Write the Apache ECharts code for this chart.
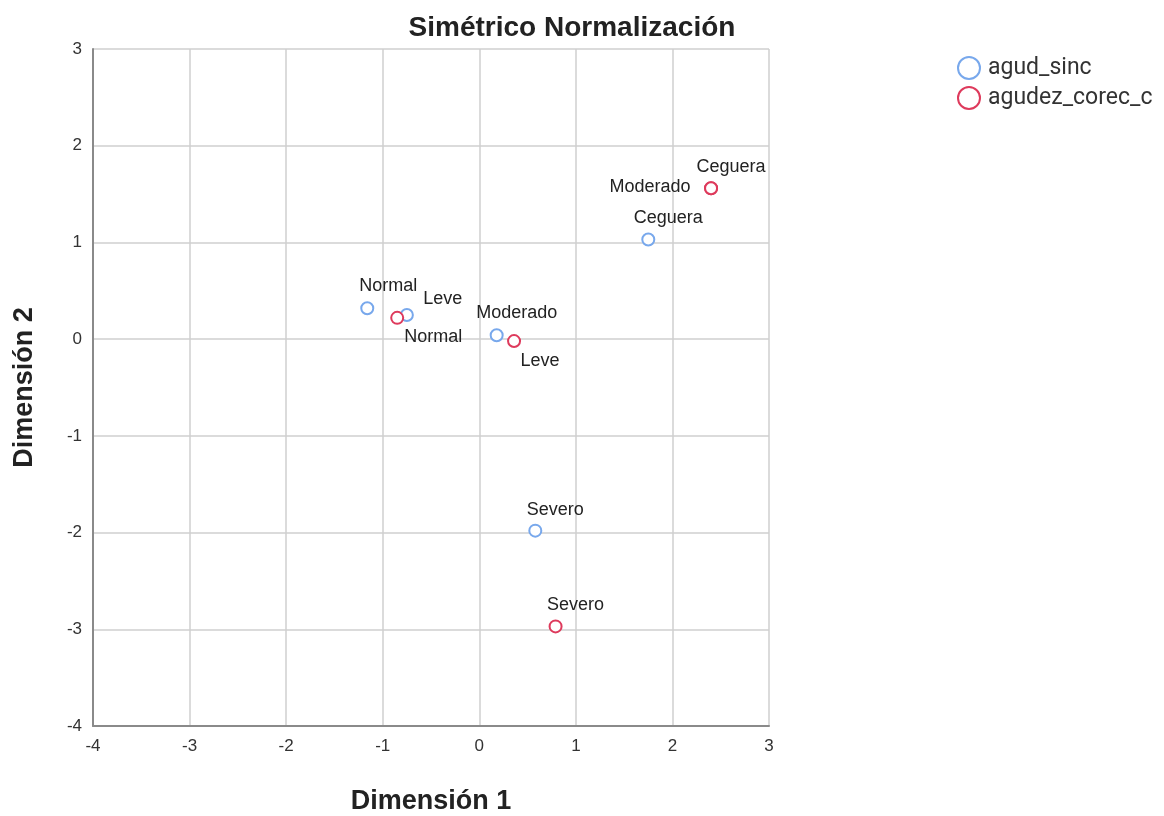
<!DOCTYPE html>
<html><head><meta charset="utf-8">
<script src="https://cdn.jsdelivr.net/npm/echarts@6/dist/echarts.min.js"></script>
<style>html,body{margin:0;padding:0;background:#fff;overflow:hidden}#c{width:1164px;height:816px}</style>
</head><body><div id="c"></div>
<script>
const seriesNames = ['agud_sinc', 'agudez_corec_c'];
const categories = ['Normal', 'Leve', 'Moderado', 'Severo', 'Ceguera'];
const sincX = [-1.16, -0.75, 0.18, 0.58, 1.75];
const sincY = [0.32, 0.25, 0.04, -1.98, 1.03];
const corecX = [-0.85, 0.36, 2.40, 0.79, 2.40];
const corecY = [0.22, -0.02, 1.56, -2.97, 1.56];
const xTicks = [-4, -3, -2, -1, 0, 1, 2, 3];
const yTicks = [-4, -3, -2, -1, 0, 1, 2, 3];

// label layout (pixel offsets from the point), styling only
const labelOffsets = {
  agud_sinc: {Normal:[21,-22], Leve:[36,-16], Moderado:[20,-22], Severo:[20,-21], Ceguera:[20,-21]},
  agudez_corec_c: {Normal:[36,19], Leve:[26,20], Moderado:[-61,-1], Severo:[20,-21], Ceguera:[20,-21]}
};
const colors = ['#78a8ec', '#de3a5c'];
const FONT = "'Liberation Sans', Arial, sans-serif";

function build(name, xs, ys) {
  return categories.map((c, i) => ({
    name: c,
    value: [xs[i], ys[i]],
    label: {offset: labelOffsets[name][c]}
  }));
}

const chart = echarts.init(document.getElementById('c'));
chart.setOption({
  animation: false,
  color: colors,
  title: {text: 'Simétrico Normalización', left: 567, top: 9, textAlign: 'center',
    textStyle: {fontFamily: FONT, fontSize: 28, fontWeight: 'bold', color: '#222'}},
  legend: {
    data: seriesNames, orient: 'vertical', left: 952, top: 51, icon: 'emptyCircle',
    itemWidth: 22, itemHeight: 22, itemGap: 6,
    itemStyle: {borderWidth: 2},
    textStyle: {fontFamily: "Roboto, 'Liberation Sans', sans-serif", fontSize: 23, color: '#333', padding:[0,0,0,3]}
  },
  grid: {left: 93, right: 395, top: 49, bottom: 90, containLabel: false, outerBoundsMode: 'none'},
  xAxis: {
    type: 'value', min: xTicks[0], max: xTicks[xTicks.length-1], interval: 1,
    name: 'Dimensión 1', nameLocation: 'middle', nameGap: 62,
    nameTextStyle: {fontFamily: FONT, fontSize: 27, fontWeight: 'bold', color: '#222'},
    axisLine: {onZero: false, lineStyle: {color: '#8a8a8a', width: 2}},
    axisTick: {show: false},
    axisLabel: {fontFamily: FONT, fontSize: 17, color: '#333', margin: 12},
    splitLine: {lineStyle: {color: '#cfcfcf', width: 1.5}}
  },
  yAxis: {
    type: 'value', min: yTicks[0], max: yTicks[yTicks.length-1], interval: 1,
    name: 'Dimensión 2', nameLocation: 'middle', nameGap: 55, nameRotate: 90,
    nameTextStyle: {fontFamily: FONT, fontSize: 27, fontWeight: 'bold', color: '#222'},
    axisLine: {onZero: false, lineStyle: {color: '#8a8a8a', width: 2}},
    axisTick: {show: false},
    axisLabel: {fontFamily: FONT, fontSize: 17, color: '#333', margin: 11},
    splitLine: {lineStyle: {color: '#cfcfcf', width: 1.5}}
  },
  series: [
    {name: seriesNames[0], type: 'scatter', data: build('agud_sinc', sincX, sincY),
     symbol: 'emptyCircle', symbolSize: 12,
     itemStyle: {color: colors[0], borderWidth: 2, opacity: 1},
     label: {show: true, position: 'inside', formatter: '{b}', fontFamily: FONT, fontSize: 18, color: '#222'},
     z: 3},
    {name: seriesNames[1], type: 'scatter', data: build('agudez_corec_c', corecX, corecY),
     symbol: 'emptyCircle', symbolSize: 12,
     itemStyle: {color: colors[1], borderWidth: 2, opacity: 1},
     label: {show: true, position: 'inside', formatter: '{b}', fontFamily: FONT, fontSize: 18, color: '#222'},
     z: 4}
  ]
});
</script></body></html>
